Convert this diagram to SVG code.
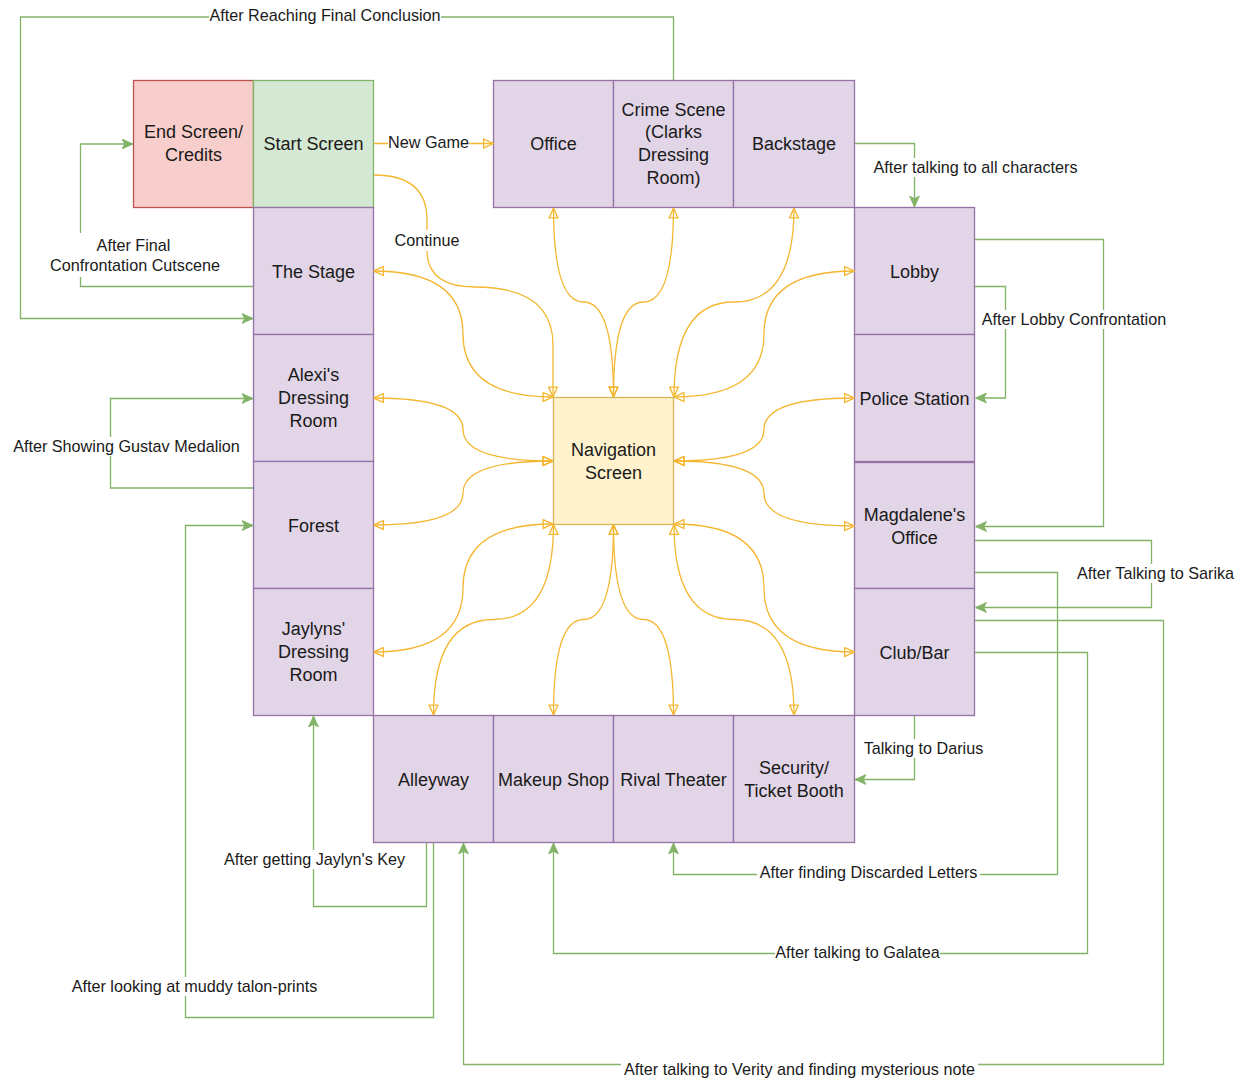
<svg xmlns="http://www.w3.org/2000/svg" width="1245" height="1083" viewBox="0 0 1245 1083">
<defs>
<style>
.n rect{stroke-width:1.3}
.p{fill:#e1d5e7;stroke:#9673a6}
.g{fill:#d5e8d4;stroke:#82b366}
.r{fill:#f8cecc;stroke:#b85450}
.y{fill:#fff2cc;stroke:#d6b656}
.t{font-family:"Liberation Sans",Arial,sans-serif;font-size:18px;fill:#1a1a1a;text-anchor:middle}
.lt{font-family:"Liberation Sans",Arial,sans-serif;font-size:16.2px;fill:#1a1a1a;text-anchor:middle}
.gl{fill:none;stroke:#82b366;stroke-width:1.3;marker-end:url(#ga)}
.yl{fill:none;stroke:#f5b731;stroke-width:1.3;marker-end:url(#ya);marker-start:url(#ya)}
.yo{fill:none;stroke:#f5b731;stroke-width:1.3;marker-end:url(#ya)}
.bg{fill:#ffffff}
</style>
<marker id="ya" viewBox="0 0 10 10" refX="10" refY="5" markerWidth="11" markerHeight="11" markerUnits="userSpaceOnUse" orient="auto-start-reverse">
<path d="M1,1 L10,5 L1,9 Z" fill="none" stroke="#f5b731" stroke-width="1.2"/>
</marker>
<marker id="ga" viewBox="0 0 10 10" refX="10" refY="5" markerWidth="11" markerHeight="11" markerUnits="userSpaceOnUse" orient="auto">
<path d="M0,0.5 L10,5 L0,9.5 L2.5,5 Z" fill="#82b366" stroke="#82b366" stroke-width="0.8"/>
</marker>
</defs>
<rect width="1245" height="1083" fill="#ffffff"/>

<g id="nodes" class="n">
<g id="end-screen"><rect class="r" x="133.5" y="80.5" width="120" height="127"/><text class="t" x="193.5" y="137.5">End Screen/</text><text class="t" x="193.5" y="161">Credits</text></g>
<g id="start-screen"><rect class="g" x="253.5" y="80.5" width="120" height="127"/><text class="t" x="313.5" y="150">Start Screen</text></g>
<g id="office"><rect class="p" x="493.5" y="80.5" width="120" height="127"/><text class="t" x="553.5" y="150">Office</text></g>
<g id="crime-scene"><rect class="p" x="613.5" y="80.5" width="120" height="127"/><text class="t" x="673.5" y="115.5">Crime Scene</text><text class="t" x="673.5" y="138">(Clarks</text><text class="t" x="673.5" y="161">Dressing</text><text class="t" x="673.5" y="184">Room)</text></g>
<g id="backstage"><rect class="p" x="733.5" y="80.5" width="121" height="127"/><text class="t" x="794" y="150">Backstage</text></g>
<g id="lobby"><rect class="p" x="854.5" y="207.5" width="120" height="127"/><text class="t" x="914.5" y="277.5">Lobby</text></g>
<g id="police-station"><rect class="p" x="854.5" y="334.5" width="120" height="127"/><text class="t" x="914.5" y="404.5">Police Station</text></g>
<g id="magdalenes-office"><rect class="p" x="854.5" y="462.5" width="120" height="126"/><text class="t" x="914.5" y="520.5">Magdalene's</text><text class="t" x="914.5" y="544">Office</text></g>
<g id="club-bar"><rect class="p" x="854.5" y="588.5" width="120" height="127"/><text class="t" x="914.5" y="658.5">Club/Bar</text></g>
<g id="the-stage"><rect class="p" x="253.5" y="207.5" width="120" height="127"/><text class="t" x="313.5" y="277.5">The Stage</text></g>
<g id="alexis-dressing-room"><rect class="p" x="253.5" y="334.5" width="120" height="127"/><text class="t" x="313.5" y="380.5">Alexi's</text><text class="t" x="313.5" y="404">Dressing</text><text class="t" x="313.5" y="427">Room</text></g>
<g id="forest"><rect class="p" x="253.5" y="461.5" width="120" height="127"/><text class="t" x="313.5" y="531.5">Forest</text></g>
<g id="jaylyns-dressing-room"><rect class="p" x="253.5" y="588.5" width="120" height="127"/><text class="t" x="313.5" y="634.5">Jaylyns'</text><text class="t" x="313.5" y="658">Dressing</text><text class="t" x="313.5" y="681">Room</text></g>
<g id="alleyway"><rect class="p" x="373.5" y="715.5" width="120" height="127"/><text class="t" x="433.5" y="785.5">Alleyway</text></g>
<g id="makeup-shop"><rect class="p" x="493.5" y="715.5" width="120" height="127"/><text class="t" x="553.5" y="785.5">Makeup Shop</text></g>
<g id="rival-theater"><rect class="p" x="613.5" y="715.5" width="120" height="127"/><text class="t" x="673.5" y="785.5">Rival Theater</text></g>
<g id="security-ticket-booth"><rect class="p" x="733.5" y="715.5" width="121" height="127"/><text class="t" x="794" y="773.5">Security/</text><text class="t" x="794" y="797">Ticket Booth</text></g>
<g id="navigation-screen"><rect class="y" x="553.5" y="397.5" width="120" height="127"/><text class="t" x="613.5" y="455.5">Navigation</text><text class="t" x="613.5" y="479">Screen</text></g>
</g>

<g id="connectors">
<path class="yo" d="M373.5,143.5 L493.5,143.5"/>
<path class="yo" d="M374,175 Q427,175 427,220 L427,250 Q427,287 475,287 Q553,287 553,345 L553,397"/>
<path class="yl" d="M373.5,271 Q463,271 463,334 Q463,397 553,397"/>
<path class="yl" d="M373.5,398 Q463,398 463,429.5 Q463,461 553,461"/>
<path class="yl" d="M373.5,525 Q463,525 463,493 Q463,461 553,461"/>
<path class="yl" d="M373.5,652 Q463,652 463,588 Q463,524 553,524"/>
<path class="yl" d="M854.5,271 Q764,271 764,334 Q764,397 674,397"/>
<path class="yl" d="M854.5,398 Q764,398 764,429.5 Q764,461 674,461"/>
<path class="yl" d="M854.5,526 Q764,526 764,493.5 Q764,461 674,461"/>
<path class="yl" d="M854.5,652 Q764,652 764,588 Q764,524 674,524"/>
<path class="yl" d="M553.5,208 Q553.5,302 583.5,302 Q613.5,302 613.5,397"/>
<path class="yl" d="M673.5,208 Q673.5,302 643.5,302 Q613.5,302 613.5,397"/>
<path class="yl" d="M794,208 Q794,302 734,302 Q674,302 674,397"/>
<path class="yl" d="M433.5,715 Q433.5,619.5 493.5,619.5 Q553.5,619.5 553.5,524.5"/>
<path class="yl" d="M553.5,715 Q553.5,619.5 583.5,619.5 Q613.5,619.5 613.5,524.5"/>
<path class="yl" d="M673.5,715 Q673.5,619.5 643.5,619.5 Q613.5,619.5 613.5,524.5"/>
<path class="yl" d="M794,715 Q794,619.5 734,619.5 Q674,619.5 674,524.5"/>

<path class="gl" d="M673.5,80 L673.5,17 L20.5,17 L20.5,318.5 L253,318.5"/>
<path class="gl" d="M253,286.5 L80.5,286.5 L80.5,144 L133,144"/>
<path class="gl" d="M855,143.5 L914.5,143.5 L914.5,207"/>
<path class="gl" d="M975,286.5 L1005.5,286.5 L1005.5,398 L975.5,398"/>
<path class="gl" d="M975,239.5 L1103.5,239.5 L1103.5,526.5 L975.5,526.5"/>
<path class="gl" d="M975,540.5 L1151.5,540.5 L1151.5,607.5 L975.5,607.5"/>
<path class="gl" d="M975,572.5 L1057.5,572.5 L1057.5,874.5 L673.5,874.5 L673.5,843"/>
<path class="gl" d="M975,652.5 L1087.5,652.5 L1087.5,953.5 L553.5,953.5 L553.5,843"/>
<path class="gl" d="M975,620.5 L1163.5,620.5 L1163.5,1064.5 L463.5,1064.5 L463.5,843"/>
<path class="gl" d="M914.5,716 L914.5,779.5 L855,779.5"/>
<path class="gl" d="M426.5,843 L426.5,906.5 L313.5,906.5 L313.5,716"/>
<path class="gl" d="M433.5,843 L433.5,1017.5 L185.5,1017.5 L185.5,525.5 L253,525.5"/>
<path class="gl" d="M253,488 L110.5,488 L110.5,398.5 L253,398.5"/>

<rect class="bg" x="209" y="6" width="232" height="19"/>
<text class="lt" x="325" y="20.5">After Reaching Final Conclusion</text>
<rect class="bg" x="388" y="133" width="81" height="19"/>
<text class="lt" x="428.5" y="147.5">New Game</text>
<rect class="bg" x="395" y="230" width="64" height="21"/>
<text class="lt" x="427" y="245.5">Continue</text>
<rect class="bg" x="871" y="158" width="209" height="19"/>
<text class="lt" x="975.5" y="172.5">After talking to all characters</text>
<rect class="bg" x="49" y="233" width="173" height="44"/>
<text class="lt" x="133.5" y="250.5">After Final</text>
<text class="lt" x="135" y="271">Confrontation Cutscene</text>
<rect class="bg" x="979" y="310" width="190" height="19"/>
<text class="lt" x="1074" y="324.5">After Lobby Confrontation</text>
<rect class="bg" x="1076" y="564" width="159" height="19"/>
<text class="lt" x="1155.5" y="578.5">After Talking to Sarika</text>
<rect class="bg" x="10" y="437" width="233" height="19"/>
<text class="lt" x="126.5" y="451.5">After Showing Gustav Medalion</text>
<rect class="bg" x="864" y="739" width="119" height="19"/>
<text class="lt" x="923.5" y="753.5">Talking to Darius</text>
<rect class="bg" x="221" y="850" width="187" height="19"/>
<text class="lt" x="314.5" y="864.5">After getting Jaylyn's Key</text>
<rect class="bg" x="70" y="977" width="249" height="19"/>
<text class="lt" x="194.5" y="991.5">After looking at muddy talon-prints</text>
<rect class="bg" x="757" y="863" width="223" height="19"/>
<text class="lt" x="868.5" y="877.5">After finding Discarded Letters</text>
<rect class="bg" x="775" y="943" width="165" height="19"/>
<text class="lt" x="857.5" y="957.5">After talking to Galatea</text>
<rect class="bg" x="621" y="1059" width="357" height="20"/>
<text class="lt" x="799.5" y="1074.5">After talking to Verity and finding mysterious note</text>
</g>
</svg>
